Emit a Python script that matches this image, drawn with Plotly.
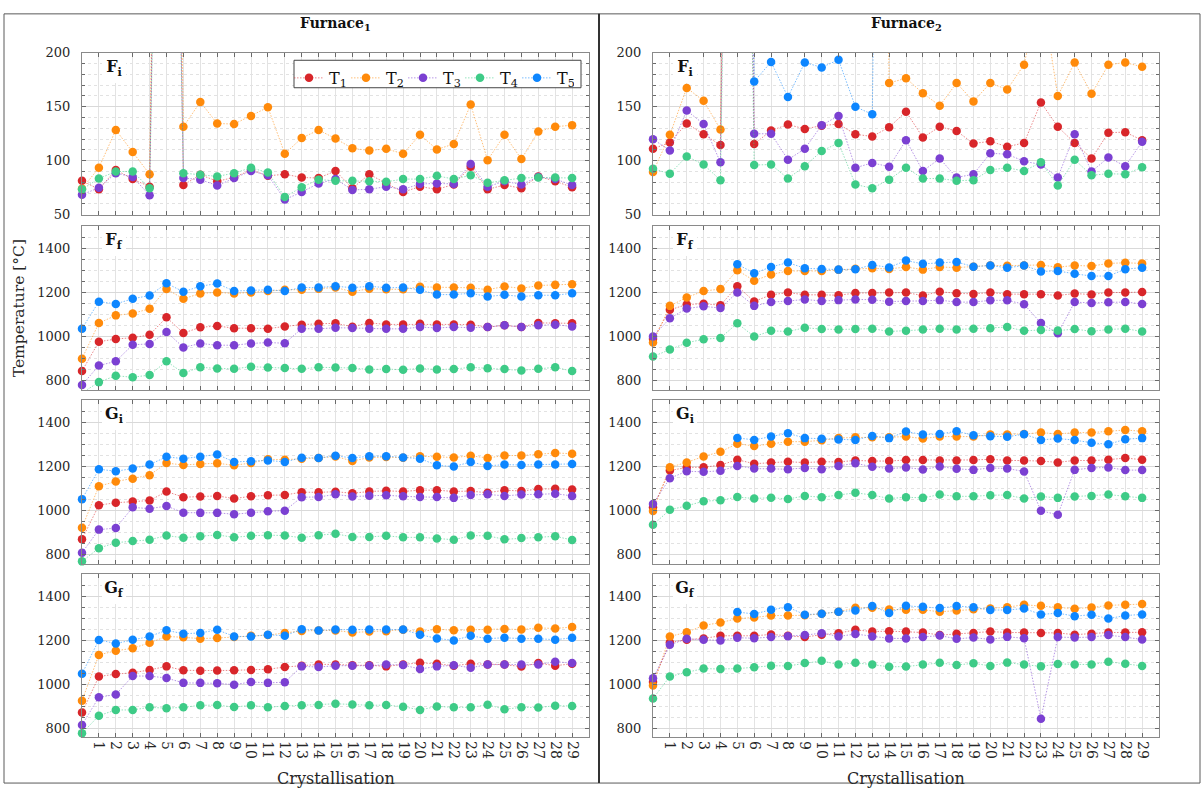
import plotly.graph_objects as go

W, H = 1204, 794
FONT = "DejaVu Serif"
TEXT = "#262626"

crystallisation = list(range(30))
x_tickvals = list(range(1, 30))
x_ticktext = [str(i) for i in range(1, 30)]

series_names = ["T<sub>1</sub>", "T<sub>2</sub>", "T<sub>3</sub>", "T<sub>4</sub>", "T<sub>5</sub>"]
series_colors = ["#d8262a", "#ff8a0a", "#7b40d2", "#3ecb87", "#0d86ff"]
series_lines = ["rgba(216,38,42,0.55)", "rgba(255,138,10,0.55)", "rgba(123,64,210,0.55)",
                "rgba(62,203,135,0.55)", "rgba(13,134,255,0.55)"]

furnace_titles = ["<b>Furnace<sub>1</sub></b>", "<b>Furnace<sub>2</sub></b>"]
quantity_labels = ["<b>F<sub>i</sub></b>", "<b>F<sub>f</sub></b>", "<b>G<sub>i</sub></b>", "<b>G<sub>f</sub></b>"]
N = None

# ---- Furnace 1 ----
f1_Fi_T1 = [81.5, 73.5, 91.5, 83, 76, 1087, 77.5, 87, 81, 84.5, 91.5, 86, 87.5, 84.5, 84, 90.5, 74.5, 87.5, 79, 71, 76, 73.5, 78, 94.5, 73.5, 77.5, 74.5, 85.5, 81, 75.5]
f1_Fi_T2 = [74, 93.5, 128.5, 108, 87.5, 1215, 131.5, 154.5, 134.5, 134, 141.5, 149.5, 106.5, 121, 128.5, 120.5, 111.5, 109.5, 111, 106.5, 124, 110.5, 115.5, 152, 100.5, 124, 101.5, 127, 131.5, 133]
f1_Fi_T3 = [68.5, 75, 88.5, 85, 68, 1021, 84, 82.5, 77, 84, 90.5, 86.5, 64, 71, 79, 83, 73, 73.5, 76, 73.5, 78.5, 79, 78.5, 97, 76, 81, 78, 85, 83, 77.5]
f1_Fi_T4 = [73.5, 83.5, 90, 90, 74.5, 888, 88.5, 87, 85.5, 88.5, 93.5, 89, 66.5, 75.5, 82.5, 81.5, 81.5, 81, 80.5, 83, 83, 86, 83, 86.5, 79.5, 82, 84, 84.5, 84.5, 84]
f1_Fi_T5 = [N] * 30

f1_Ff_T1 = [844, 977, 989, 995, 1008, 1087, 1016, 1042, 1048, 1038, 1038, 1036, 1046, 1054, 1058, 1060, 1045, 1062, 1055, 1055, 1058, 1055, 1055, 1054, 1043, 1051, 1043, 1062, 1060, 1060]
f1_Ff_T2 = [900, 1061, 1096, 1105, 1126, 1215, 1171, 1195, 1200, 1195, 1200, 1206, 1212, 1212, 1217, 1222, 1203, 1217, 1214, 1214, 1225, 1222, 1222, 1221, 1212, 1227, 1218, 1231, 1234, 1237]
f1_Ff_T3 = [781, 869, 888, 963, 967, 1021, 951, 969, 961, 961, 969, 973, 970, 1036, 1035, 1040, 1039, 1036, 1035, 1035, 1043, 1039, 1043, 1040, 1043, 1051, 1043, 1051, 1054, 1046]
f1_Ff_T4 = [745, 794, 823, 816, 826, 888, 835, 861, 856, 854, 864, 860, 858, 854, 861, 860, 858, 851, 853, 850, 856, 851, 853, 861, 857, 853, 847, 854, 861, 844]
f1_Ff_T5 = [1036, 1158, 1148, 1171, 1186, 1241, 1203, 1228, 1240, 1206, 1209, 1212, 1206, 1222, 1222, 1228, 1221, 1228, 1221, 1222, 1212, 1190, 1190, 1196, 1181, 1189, 1181, 1187, 1187, 1196]

f1_Gi_T1 = [870, 1025, 1036, 1041, 1046, 1087, 1061, 1064, 1067, 1055, 1065, 1070, 1071, 1084, 1083, 1086, 1079, 1087, 1090, 1087, 1093, 1093, 1087, 1089, 1081, 1093, 1089, 1098, 1099, 1096]
f1_Gi_T2 = [923, 1111, 1132, 1145, 1161, 1216, 1207, 1212, 1215, 1206, 1216, 1233, 1231, 1236, 1239, 1246, 1225, 1241, 1243, 1240, 1247, 1244, 1241, 1249, 1239, 1250, 1250, 1256, 1262, 1258]
f1_Gi_T3 = [809, 914, 921, 1015, 1009, 1021, 991, 990, 990, 984, 991, 997, 1000, 1061, 1062, 1074, 1064, 1068, 1070, 1065, 1062, 1062, 1058, 1071, 1074, 1067, 1073, 1074, 1077, 1067]
f1_Gi_T4 = [770, 830, 855, 862, 868, 887, 877, 884, 890, 879, 886, 889, 887, 877, 889, 895, 881, 881, 886, 879, 879, 874, 868, 887, 886, 870, 876, 879, 884, 867]
f1_Gi_T5 = [1052, 1188, 1179, 1191, 1209, 1244, 1236, 1244, 1255, 1221, 1224, 1228, 1221, 1240, 1239, 1249, 1239, 1247, 1247, 1241, 1236, 1206, 1200, 1221, 1203, 1209, 1207, 1209, 1209, 1212]

f1_Gf_T1 = [872, 1036, 1047, 1053, 1066, 1082, 1064, 1062, 1063, 1064, 1066, 1069, 1079, 1085, 1091, 1091, 1087, 1087, 1082, 1091, 1098, 1094, 1085, 1094, 1091, 1090, 1081, 1097, 1085, 1094]
f1_Gf_T2 = [926, 1134, 1153, 1164, 1189, 1218, 1214, 1208, 1211, 1215, 1221, 1224, 1234, 1243, 1245, 1245, 1236, 1240, 1242, 1248, 1240, 1251, 1246, 1248, 1248, 1252, 1249, 1257, 1254, 1261]
f1_Gf_T3 = [816, 942, 954, 1038, 1038, 1029, 1007, 1007, 1005, 999, 1011, 1007, 1010, 1082, 1079, 1085, 1085, 1085, 1090, 1088, 1070, 1082, 1087, 1076, 1090, 1090, 1090, 1090, 1103, 1097]
f1_Gf_T4 = [778, 858, 884, 884, 896, 892, 896, 905, 906, 897, 905, 896, 902, 905, 906, 912, 909, 905, 906, 899, 884, 900, 896, 896, 908, 887, 896, 895, 903, 902]
f1_Gf_T5 = [1048, 1202, 1186, 1203, 1218, 1246, 1230, 1234, 1248, 1218, 1218, 1226, 1221, 1251, 1245, 1249, 1248, 1249, 1249, 1249, 1226, 1209, 1200, 1221, 1208, 1212, 1208, 1208, 1203, 1212]

# ---- Furnace 2 ----
f2_Fi_T1 = [111, 117, 134.5, 124.5, 114.5, 1228, 115.5, 128, 133.5, 129.5, 132.5, 134, 124.5, 122.5, 131, 145.5, 121.5, 131.5, 127.5, 116, 118, 113, 116.5, 154, 131.5, 116.5, 102, 126, 126.5, 119]
f2_Fi_T2 = [89.5, 124, 167.5, 155.5, 129, 1300, 1253, 1281, 1297, 1297, 1297, 1302, 1307, 1309, 172, 176.5, 162.5, 151, 172, 155, 172, 166, 189, 260, 160, 191, 162, 189, 191, 187]
f2_Fi_T3 = [120, 109.5, 146.5, 134, 98.5, 1200, 125, 125, 101, 111, 133, 141.5, 93.5, 98, 94.5, 119, 90.5, 102, 84.5, 87.5, 107, 106, 99.5, 96.5, 84.5, 124.5, 90, 103, 95, 117.5]
f2_Fi_T4 = [92.5, 88, 104, 96.5, 82, 1060, 96, 96.5, 83.5, 95, 109, 116.5, 78, 74.5, 82.5, 93.5, 83.5, 83.5, 81.5, 82, 91.5, 93.5, 90.5, 98.5, 77, 101, 86.5, 88, 87.5, 94]
f2_Fi_T5 = [N, N, N, N, N, 1327, 173.5, 191.5, 159, 191, 186.5, 193.5, 150, 143, 1313, N, N, N, N, N, N, N, N, N, N, N, N, N, N, N]

f2_Ff_T1 = [989, 1121, 1145, 1149, 1142, 1228, 1159, 1189, 1199, 1189, 1189, 1187, 1197, 1197, 1199, 1199, 1186, 1203, 1196, 1193, 1199, 1192, 1192, 1192, 1186, 1195, 1190, 1200, 1199, 1202]
f2_Ff_T2 = [973, 1139, 1177, 1206, 1215, 1300, 1253, 1281, 1297, 1297, 1297, 1302, 1307, 1309, 1306, 1315, 1303, 1315, 1312, 1316, 1322, 1321, 1322, 1324, 1314, 1322, 1319, 1331, 1334, 1331]
f2_Ff_T3 = [1000, 1083, 1127, 1137, 1129, 1200, 1139, 1156, 1161, 1168, 1161, 1165, 1168, 1167, 1158, 1161, 1161, 1165, 1156, 1156, 1164, 1164, 1146, 1061, 1015, 1156, 1152, 1155, 1156, 1148]
f2_Ff_T4 = [910, 942, 972, 988, 994, 1060, 1000, 1026, 1023, 1040, 1034, 1032, 1034, 1036, 1023, 1026, 1032, 1035, 1032, 1035, 1038, 1043, 1026, 1030, 1027, 1034, 1024, 1032, 1036, 1023]
f2_Ff_T5 = [N, N, N, N, N, 1327, 1287, 1315, 1335, 1309, 1306, 1303, 1305, 1324, 1313, 1344, 1329, 1335, 1338, 1316, 1322, 1311, 1322, 1295, 1297, 1284, 1274, 1274, 1305, 1312]

f2_Gi_T1 = [1015, 1182, 1196, 1197, 1207, 1231, 1213, 1219, 1222, 1218, 1222, 1221, 1228, 1225, 1225, 1230, 1230, 1227, 1227, 1230, 1233, 1228, 1227, 1225, 1219, 1228, 1227, 1231, 1239, 1231]
f2_Gi_T2 = [999, 1197, 1219, 1246, 1267, 1304, 1293, 1304, 1313, 1313, 1319, 1330, 1333, 1333, 1333, 1336, 1327, 1336, 1336, 1336, 1345, 1345, 1348, 1354, 1348, 1354, 1354, 1360, 1366, 1360]
f2_Gi_T3 = [1030, 1147, 1179, 1176, 1181, 1203, 1191, 1191, 1188, 1194, 1188, 1203, 1215, 1199, 1191, 1196, 1187, 1200, 1190, 1185, 1194, 1191, 1178, 1000, 981, 1185, 1194, 1196, 1184, 1184]
f2_Gi_T4 = [936, 1004, 1022, 1043, 1047, 1062, 1055, 1059, 1053, 1067, 1061, 1071, 1081, 1071, 1055, 1061, 1058, 1073, 1065, 1065, 1070, 1071, 1055, 1064, 1058, 1064, 1067, 1073, 1065, 1058]
f2_Gi_T5 = [N, N, N, N, N, 1330, 1321, 1336, 1351, 1329, 1326, 1323, 1321, 1339, 1329, 1359, 1345, 1348, 1360, 1342, 1338, 1335, 1347, 1321, 1327, 1320, 1308, 1301, 1324, 1329]

f2_Gf_T1 = [1011, 1191, 1203, 1209, 1221, 1221, 1221, 1227, 1221, 1215, 1226, 1233, 1248, 1240, 1242, 1240, 1236, 1224, 1230, 1234, 1240, 1236, 1236, 1234, 1234, 1226, 1230, 1236, 1236, 1237]
f2_Gf_T2 = [995, 1218, 1237, 1268, 1281, 1299, 1304, 1313, 1313, 1314, 1321, 1330, 1348, 1348, 1340, 1339, 1339, 1330, 1336, 1342, 1345, 1351, 1362, 1357, 1351, 1344, 1350, 1359, 1362, 1365]
f2_Gf_T3 = [1028, 1180, 1207, 1203, 1200, 1212, 1210, 1215, 1219, 1224, 1233, 1218, 1229, 1218, 1209, 1209, 1215, 1222, 1207, 1213, 1204, 1216, 1210, 844, 1215, 1213, 1215, 1224, 1215, 1204]
f2_Gf_T4 = [936, 1036, 1055, 1072, 1070, 1072, 1078, 1085, 1084, 1097, 1107, 1090, 1098, 1090, 1080, 1081, 1090, 1098, 1088, 1096, 1084, 1099, 1090, 1082, 1093, 1090, 1090, 1103, 1094, 1084]
f2_Gf_T5 = [N, N, N, N, N, 1329, 1320, 1339, 1351, 1317, 1321, 1330, 1336, 1356, 1324, 1357, 1353, 1347, 1356, 1351, 1338, 1338, 1345, 1318, 1324, 1310, 1317, 1299, 1313, 1318]

# panels[row][col] -> list of the five series
panels = [
    [[f1_Fi_T1, f1_Fi_T2, f1_Fi_T3, f1_Fi_T4, f1_Fi_T5], [f2_Fi_T1, f2_Fi_T2, f2_Fi_T3, f2_Fi_T4, f2_Fi_T5]],
    [[f1_Ff_T1, f1_Ff_T2, f1_Ff_T3, f1_Ff_T4, f1_Ff_T5], [f2_Ff_T1, f2_Ff_T2, f2_Ff_T3, f2_Ff_T4, f2_Ff_T5]],
    [[f1_Gi_T1, f1_Gi_T2, f1_Gi_T3, f1_Gi_T4, f1_Gi_T5], [f2_Gi_T1, f2_Gi_T2, f2_Gi_T3, f2_Gi_T4, f2_Gi_T5]],
    [[f1_Gf_T1, f1_Gf_T2, f1_Gf_T3, f1_Gf_T4, f1_Gf_T5], [f2_Gf_T1, f2_Gf_T2, f2_Gf_T3, f2_Gf_T4, f2_Gf_T5]],
]

y_ranges = [[50, 200], [760, 1500], [760, 1500], [760, 1500]]
y_major = [50, 200, 200, 200]
y_minor = [10, 50, 50, 50]

col_px = [(82, 589), (653, 1159)]
row_px = [(46.7, 211.7), (223.3, 390.0), (401.0, 567.3), (578.3, 744.3)]

fig = go.Figure()
layout = {}
shapes = []
annotations = []

for r in range(4):
    for c in range(2):
        k = r * 2 + c + 1
        sfx = "" if k == 1 else str(k)
        lo, hi = y_ranges[r]
        for s in range(5):
            vals = panels[r][c][s]
            below = any(v is not None and v < lo for v in vals)
            fig.add_trace(go.Scatter(
                x=crystallisation, y=vals, name=series_names[s],
                mode="lines+markers",
                line=dict(color=series_lines[s], width=1, dash="1.5px,1.5px"),
                marker=dict(color=series_colors[s], size=8.5, line=dict(width=0)),
                cliponaxis=below,
                showlegend=(k == 1), legendgroup=f"T{s+1}",
                xaxis="x" + sfx, yaxis="y" + sfx,
            ))

        x0p, x1p = col_px[c]
        t, b = row_px[r]
        layout["xaxis" + sfx] = dict(
            domain=[x0p / W, x1p / W], anchor="y" + sfx, range=[0, 30],
            tickmode="array", tickvals=x_tickvals, ticktext=x_ticktext,
            showticklabels=(r == 3), tickangle=90,
            tickfont=dict(family=FONT, size=14, color=TEXT),
            ticks="inside", ticklen=4, tickcolor="#6a6a6a",
            showline=True, linecolor="#8a8a8a", linewidth=1, mirror="ticks",
            showgrid=True, gridcolor="#e3e3e3", gridwidth=1, zeroline=False,
        )
        layout["yaxis" + sfx] = dict(
            domain=[1 - b / H, 1 - t / H], anchor="x" + sfx, range=[lo, hi],
            tick0=0, dtick=y_major[r],
            tickfont=dict(family=FONT, size=13, color=TEXT),
            ticks="inside", ticklen=4, tickcolor="#6a6a6a",
            showline=True, linecolor="#8a8a8a", linewidth=1, mirror="ticks",
            showgrid=True, gridcolor="#d9d9d9", gridwidth=1, zeroline=False,
            ticklabelstandoff=8,
            minor=dict(tick0=0, dtick=y_minor[r], ticks="inside", ticklen=3, tickcolor="#6a6a6a",
                       showgrid=True, gridcolor="#e2e2e2", griddash="dot", gridwidth=1),
        )

        # panel label on a white patch
        annotations.append(dict(text=quantity_labels[r], xref="x" + sfx, yref=f"y{sfx} domain",
                                x=1.9, y=1.0, xanchor="center", yanchor="top", showarrow=False,
                                bgcolor="white", width=24, height=30, valign="middle",
                                borderpad=0, borderwidth=0,
                                font=dict(family=FONT, size=16, color="#111111")))

# column headers and axis titles
for c in range(2):
    cx = (col_px[c][0] + col_px[c][1]) / 2 / W
    annotations.append(dict(text=furnace_titles[c], xref="paper", yref="paper", x=cx, y=1 - 17 / H,
                            xanchor="center", yanchor="middle", showarrow=False,
                            font=dict(family=FONT, size=14, color="#111111")))
    annotations.append(dict(text="Crystallisation", xref="paper", yref="paper", x=cx, y=1 - 786 / H,
                            xanchor="center", yanchor="middle", showarrow=False,
                            font=dict(family=FONT, size=16, color=TEXT)))
annotations.append(dict(text="Temperature [°C]", xref="paper", yref="paper", x=19 / W, y=1 - 307 / H,
                        xanchor="center", yanchor="middle", textangle=-90, showarrow=False,
                        font=dict(family=FONT, size=15.5, color=TEXT)))

# legend frame, drawn over the first panel
shapes.append(dict(type="rect", xref="paper", yref="paper", x0=294 / W, x1=581 / W,
                   y0=1 - 82.3 / H, y1=1 - 54.3 / H, layer="above",
                   fillcolor="white", line=dict(color="#444444", width=1)))

# outer frame and column divider
shapes.append(dict(type="rect", xref="paper", yref="paper", x0=4 / W, x1=1200 / W, y0=1 - 791 / H, y1=1 - 7 / H,
                   line=dict(color="#5a5a5a", width=1)))
shapes.append(dict(type="line", xref="paper", yref="paper", x0=599 / W, x1=599 / W, y0=1 - 791 / H, y1=1 - 7 / H,
                   line=dict(color="#333333", width=2)))

fig.update_layout(
    width=W, height=H, margin=dict(l=0, r=0, t=0, b=0),
    paper_bgcolor="white", plot_bgcolor="white",
    shapes=shapes, annotations=annotations,
    legend=dict(orientation="h", x=289 / W, y=1 - 55 / H, xanchor="left", yanchor="top",
                bgcolor="rgba(0,0,0,0)", borderwidth=0,
                font=dict(family=FONT, size=16, color="#111111"),
                itemwidth=30, entrywidth=12, entrywidthmode="pixels", tracegroupgap=0),
    **layout,
)

fig.write_html("out.html")
